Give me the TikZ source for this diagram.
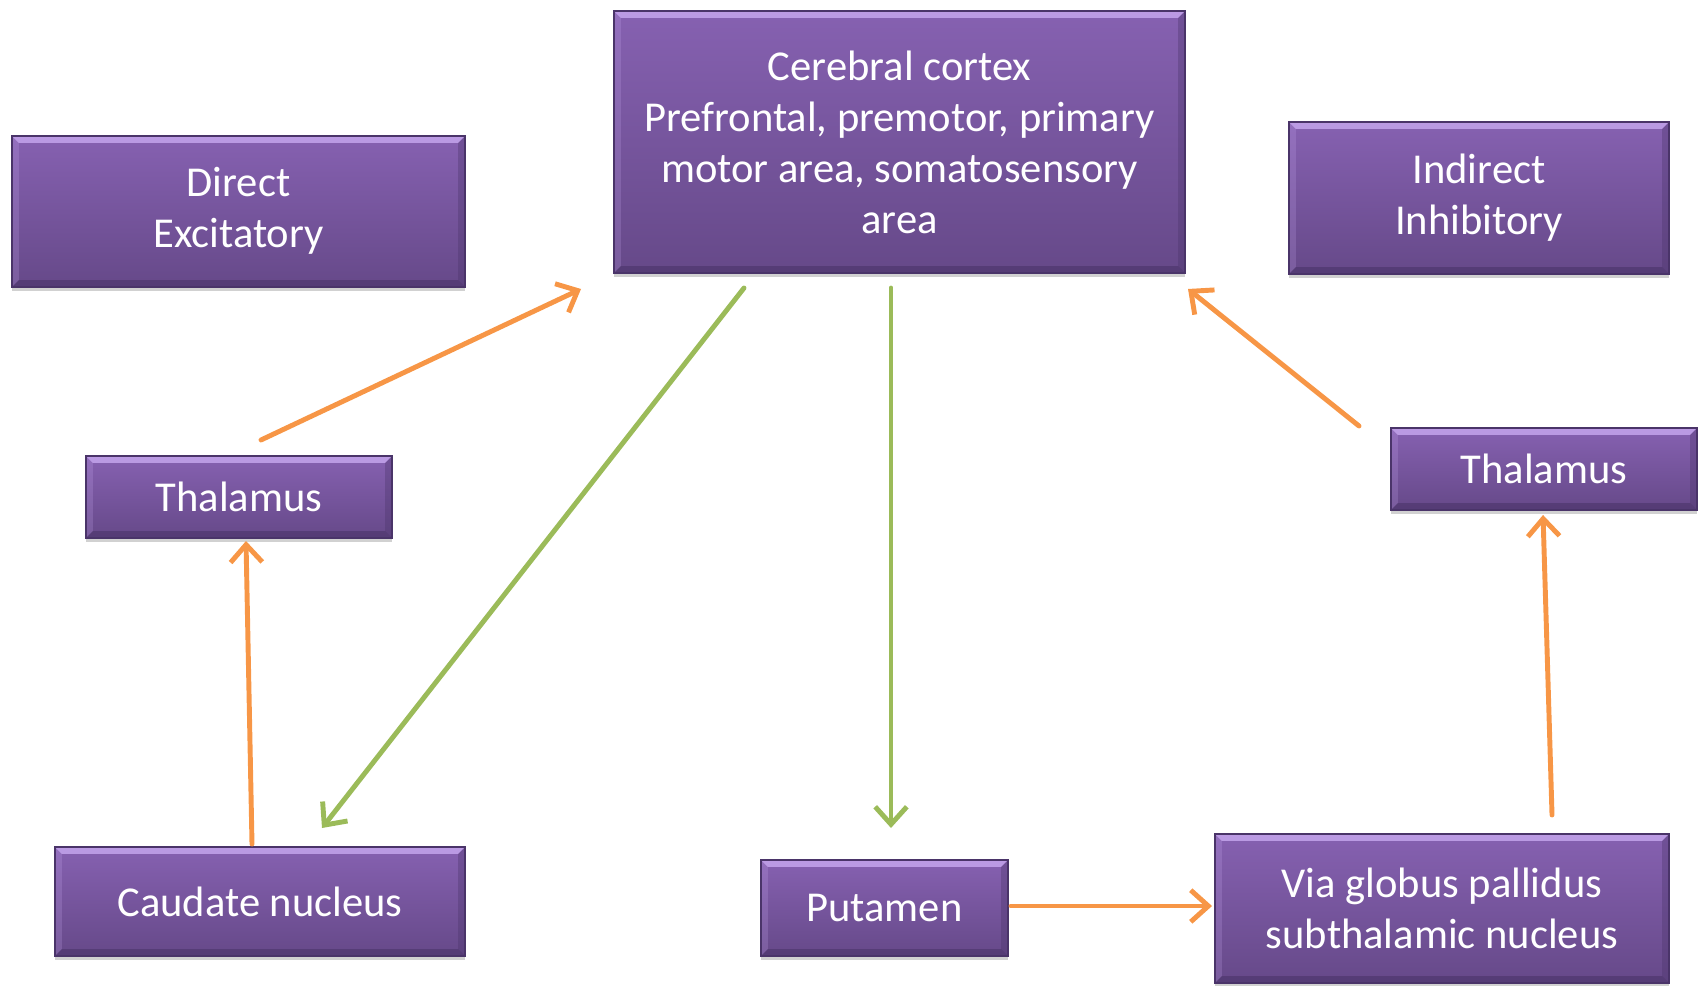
\documentclass[tikz,border=0pt]{standalone}
\usepackage{fontspec}
\setmainfont{Carlito}
\usetikzlibrary{arrows.meta,shadows,calc}
\definecolor{ptop}{HTML}{8661B1}
\definecolor{pbot}{HTML}{664989}
\definecolor{pedge}{HTML}{4A3469}
\definecolor{plight}{HTML}{CDAEF5}
\definecolor{arrO}{HTML}{F79646}
\definecolor{arrG}{HTML}{9BBB59}
\tikzset{
  box/.style={rectangle, top color=ptop, bottom color=pbot, draw=pedge, line width=0.4pt,
    text=white, align=center, inner sep=0pt,
    font=\fontsize{12.1}{14.5}\selectfont,
    drop shadow={shadow xshift=0pt, shadow yshift=-0.04cm, opacity=0.18, fill=black},
    path picture={
      \fill[plight,opacity=0.75] (path picture bounding box.north west) -- (path picture bounding box.north east)
        -- ([xshift=-0.07cm,yshift=-0.07cm]path picture bounding box.north east)
        -- ([xshift=0.07cm,yshift=-0.07cm]path picture bounding box.north west) -- cycle;
      \fill[pedge,opacity=0.6] (path picture bounding box.south west) -- (path picture bounding box.south east)
        -- ([xshift=-0.07cm,yshift=0.07cm]path picture bounding box.south east)
        -- ([xshift=0.07cm,yshift=0.07cm]path picture bounding box.south west) -- cycle;
      \fill[pedge,opacity=0.35] (path picture bounding box.north east) -- (path picture bounding box.south east)
        -- ([xshift=-0.07cm,yshift=0.07cm]path picture bounding box.south east)
        -- ([xshift=-0.07cm,yshift=-0.07cm]path picture bounding box.north east) -- cycle;
      \fill[plight,opacity=0.2] (path picture bounding box.north west) -- (path picture bounding box.south west)
        -- ([xshift=0.07cm,yshift=0.07cm]path picture bounding box.south west)
        -- ([xshift=0.07cm,yshift=-0.07cm]path picture bounding box.north west) -- cycle;
    }},
  oarrow/.style={draw=arrO, line width=1.4pt, line cap=round, -{Straight Barb[length=5pt,width=9pt]}},
  garrow/.style={draw=arrG, line width=1.4pt, line cap=round, -{Straight Barb[length=5pt,width=9pt]}},
}
\begin{document}
\begin{tikzpicture}[x=0.01cm,y=-0.01cm]
\useasboundingbox (0,0) rectangle (1704,986);
\node[box, minimum width=5.71cm, minimum height=2.62cm] (cortex) at (899.5,142)
  {Cerebral cortex\\Prefrontal, premotor, primary\\motor area, somatosensory\\area};
\node[box, minimum width=4.53cm, minimum height=1.51cm] (direct) at (238.5,211.5) {\raisebox{-1pt}{\begin{tabular}{@{}c@{}}Direct\\Excitatory\end{tabular}}};
\node[box, minimum width=3.80cm, minimum height=1.52cm] (indirect) at (1479,198) {Indirect\\Inhibitory};
\node[box, minimum width=3.06cm, minimum height=0.82cm] (thalL) at (239,497) {Thalamus};
\node[box, minimum width=3.06cm, minimum height=0.82cm] (thalR) at (1544,469) {Thalamus};
\node[box, minimum width=4.10cm, minimum height=1.09cm] (caudate) at (260,901.5) {Caudate nucleus};
\node[box, minimum width=2.47cm, minimum height=0.96cm] (putamen) at (884.5,908) {Putamen};
\node[box, minimum width=4.54cm, minimum height=1.49cm] (via) at (1442,908.5) {Via globus pallidus\\subthalamic nucleus};

\coordinate (cA) at (744,288);
\coordinate (cadIn) at (322,828);
\coordinate (cB) at (891,288);
\coordinate (putIn) at (891,828);
\coordinate (tLout) at (261,440);
\coordinate (corIn1) at (581,289);
\coordinate (cadOut) at (252,844);
\coordinate (tLin) at (246,541);
\coordinate (putOut) at (1011,906);
\coordinate (viaIn) at (1212,906);
\coordinate (viaOut) at (1552,815);
\coordinate (tRin) at (1543,515);
\coordinate (tRout) at (1359,426);
\coordinate (corIn2) at (1188,289);

\draw[garrow] (cA) -- (cadIn);
\draw[garrow] (cB) -- (putIn);
\draw[oarrow] (tLout) -- (corIn1);
\draw[oarrow] (cadOut) -- (tLin);
\draw[oarrow] (putOut) -- (viaIn);
\draw[oarrow] (viaOut) -- (tRin);
\draw[oarrow] (tRout) -- (corIn2);
\end{tikzpicture}
\end{document}
